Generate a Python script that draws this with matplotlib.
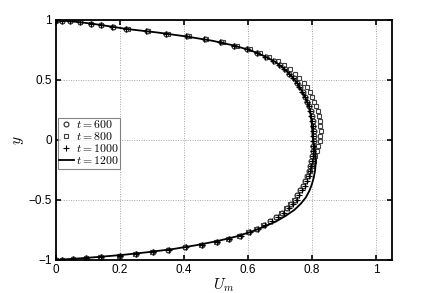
import matplotlib
matplotlib.use("Agg")
import matplotlib.pyplot as plt

plt.rcParams['mathtext.fontset'] = 'cm'
plt.rcParams['font.family'] = ['Liberation Sans', 'DejaVu Sans']

# y positions of the sampled points (markers)
y = [1.0, 0.999, 0.995, 0.989, 0.981, 0.97, 0.957, 0.942, 0.925, 0.906,
     0.885, 0.862, 0.838, 0.812, 0.784, 0.755, 0.724, 0.692, 0.659, 0.625,
     0.59, 0.553, 0.516, 0.478, 0.44, 0.4, 0.36, 0.32, 0.279, 0.238,
     0.197, 0.156, 0.114, 0.073, 0.031,
     -0.011, -0.052, -0.094, -0.135, -0.176, -0.217, -0.258, -0.299, -0.34, -0.38,
     -0.42, -0.459, -0.497, -0.535, -0.571, -0.607, -0.642, -0.675, -0.708, -0.739,
     -0.769, -0.797, -0.825, -0.85, -0.874, -0.896, -0.916, -0.934, -0.95, -0.964,
     -0.976, -0.985, -0.992, -0.997, -1.0]

u_600 = [0.0, 0.005, 0.02, 0.043, 0.074, 0.11, 0.14, 0.178, 0.22, 0.284,
         0.345, 0.41, 0.465, 0.515, 0.558, 0.598, 0.63, 0.656, 0.681, 0.70,
         0.716, 0.73, 0.743, 0.754, 0.763, 0.772, 0.779, 0.786, 0.792, 0.796,
         0.8, 0.802, 0.804, 0.806, 0.806,
         0.806, 0.805, 0.803, 0.801, 0.798, 0.795, 0.791, 0.785, 0.779, 0.772,
         0.764, 0.755, 0.746, 0.734, 0.721, 0.706, 0.689, 0.67, 0.65, 0.628,
         0.602, 0.574, 0.54, 0.502, 0.456, 0.405, 0.352, 0.303, 0.25, 0.2,
         0.14, 0.095, 0.055, 0.02, 0.0]

u_800 = [0.0, 0.005, 0.02, 0.043, 0.074, 0.11, 0.142, 0.18, 0.224, 0.288,
         0.35, 0.415, 0.47, 0.521, 0.565, 0.606, 0.639, 0.667, 0.693, 0.713,
         0.731, 0.747, 0.761, 0.774, 0.784, 0.794, 0.801, 0.808, 0.814, 0.819,
         0.822, 0.825, 0.826, 0.827, 0.826,
         0.824, 0.82, 0.816, 0.811, 0.806, 0.8, 0.794, 0.787, 0.78, 0.772,
         0.763, 0.754, 0.744, 0.732, 0.719, 0.704, 0.687, 0.668, 0.648, 0.626,
         0.6, 0.572, 0.538, 0.5, 0.454, 0.403, 0.35, 0.3, 0.247, 0.197,
         0.138, 0.093, 0.054, 0.02, 0.0]

u_1000 = [0.0, 0.005, 0.02, 0.043, 0.074, 0.11, 0.14, 0.177, 0.219, 0.282,
          0.343, 0.408, 0.463, 0.513, 0.556, 0.596, 0.628, 0.654, 0.679, 0.698,
          0.714, 0.728, 0.741, 0.752, 0.761, 0.77, 0.777, 0.784, 0.79, 0.794,
          0.798, 0.8, 0.802, 0.803, 0.804,
          0.805, 0.805, 0.804, 0.803, 0.801, 0.798, 0.795, 0.79, 0.784, 0.777,
          0.769, 0.761, 0.752, 0.74, 0.727, 0.712, 0.695, 0.676, 0.655, 0.632,
          0.606, 0.577, 0.542, 0.504, 0.458, 0.406, 0.353, 0.304, 0.25, 0.2,
          0.14, 0.095, 0.055, 0.02, 0.0]

# t = 1200 drawn as a line on its own grid
y_line = [1.0, 0.995, 0.985, 0.97, 0.95, 0.925, 0.895, 0.862, 0.826, 0.787,
          0.745, 0.70, 0.653, 0.604, 0.553, 0.50, 0.446, 0.39, 0.333, 0.275,
          0.216, 0.157, 0.098, 0.04, -0.02, -0.078, -0.137, -0.196, -0.255, -0.313,
          -0.37, -0.426, -0.48, -0.533, -0.584, -0.633, -0.68, -0.724, -0.766, -0.806,
          -0.843, -0.877, -0.908, -0.935, -0.958, -0.976, -0.989, -0.997, -1.0]
u_1200 = [0.0, 0.02, 0.06, 0.11, 0.16, 0.22, 0.318, 0.408, 0.49, 0.556,
          0.61, 0.65, 0.684, 0.709, 0.729, 0.747, 0.761, 0.773, 0.783, 0.791,
          0.796, 0.799, 0.801, 0.802, 0.805, 0.809, 0.812, 0.812, 0.81, 0.806,
          0.8, 0.792, 0.781, 0.765, 0.745, 0.718, 0.688, 0.65, 0.61, 0.562,
          0.505, 0.44, 0.37, 0.29, 0.21, 0.13, 0.065, 0.02, 0.0]

labels = ['$t = 600$', '$t = 800$', '$t = 1000$', '$t = 1200$']

x_ticks = [0, 0.2, 0.4, 0.6, 0.8, 1]
x_ticklabels = ['0', '0.2', '0.4', '0.6', '0.8', '1']
y_ticks = [-1, -0.5, 0, 0.5, 1]
y_ticklabels = ['\u22121', '\u22120.5', '0', '0.5', '1']

fig = plt.figure(figsize=(4.33, 2.93), dpi=100)
ax = fig.add_axes([0.129, 0.113, 0.776, 0.819])

ax.plot(u_600, y, linestyle='none', marker='o', markersize=3.5,
        markerfacecolor='none', markeredgecolor='0.15', markeredgewidth=0.8,
        label=labels[0])
ax.plot(u_800, y, linestyle='none', marker='s', markersize=3.5,
        markerfacecolor='none', markeredgecolor='0.25', markeredgewidth=0.8,
        label=labels[1])
ax.plot(u_1000, y, linestyle='none', marker='+', markersize=4,
        markeredgecolor='black', markeredgewidth=0.8, label=labels[2])
ax.plot(u_1200, y_line, color='black', linewidth=1.3, label=labels[3])

ax.set_xlim(0, 1.05)
ax.set_ylim(-1, 1)
ax.set_xticks(x_ticks)
ax.set_xticklabels(x_ticklabels)
ax.set_yticks(y_ticks)
ax.set_yticklabels(y_ticklabels)
ax.tick_params(direction='in', top=True, right=True, length=3.5, width=1.2,
               labelsize=8.5, pad=3)
ax.grid(True, linestyle=(0, (1, 1.5)), color='0.65', linewidth=0.7)
for s in ax.spines.values():
    s.set_linewidth(1.3)

ax.set_xlabel('$U_m$', fontsize=11, labelpad=0)
ax.set_ylabel('$y$', fontsize=11, labelpad=2)

leg = ax.legend(loc='upper left', bbox_to_anchor=(0.005, 0.59), fontsize=8.5,
                frameon=True, fancybox=False, borderpad=0.1, labelspacing=0.0,
                handlelength=1.3, handletextpad=0.15, borderaxespad=0.0)
leg.get_frame().set_edgecolor('0.4')
leg.get_frame().set_linewidth(0.8)

fig.savefig('out.png', dpi=100)
